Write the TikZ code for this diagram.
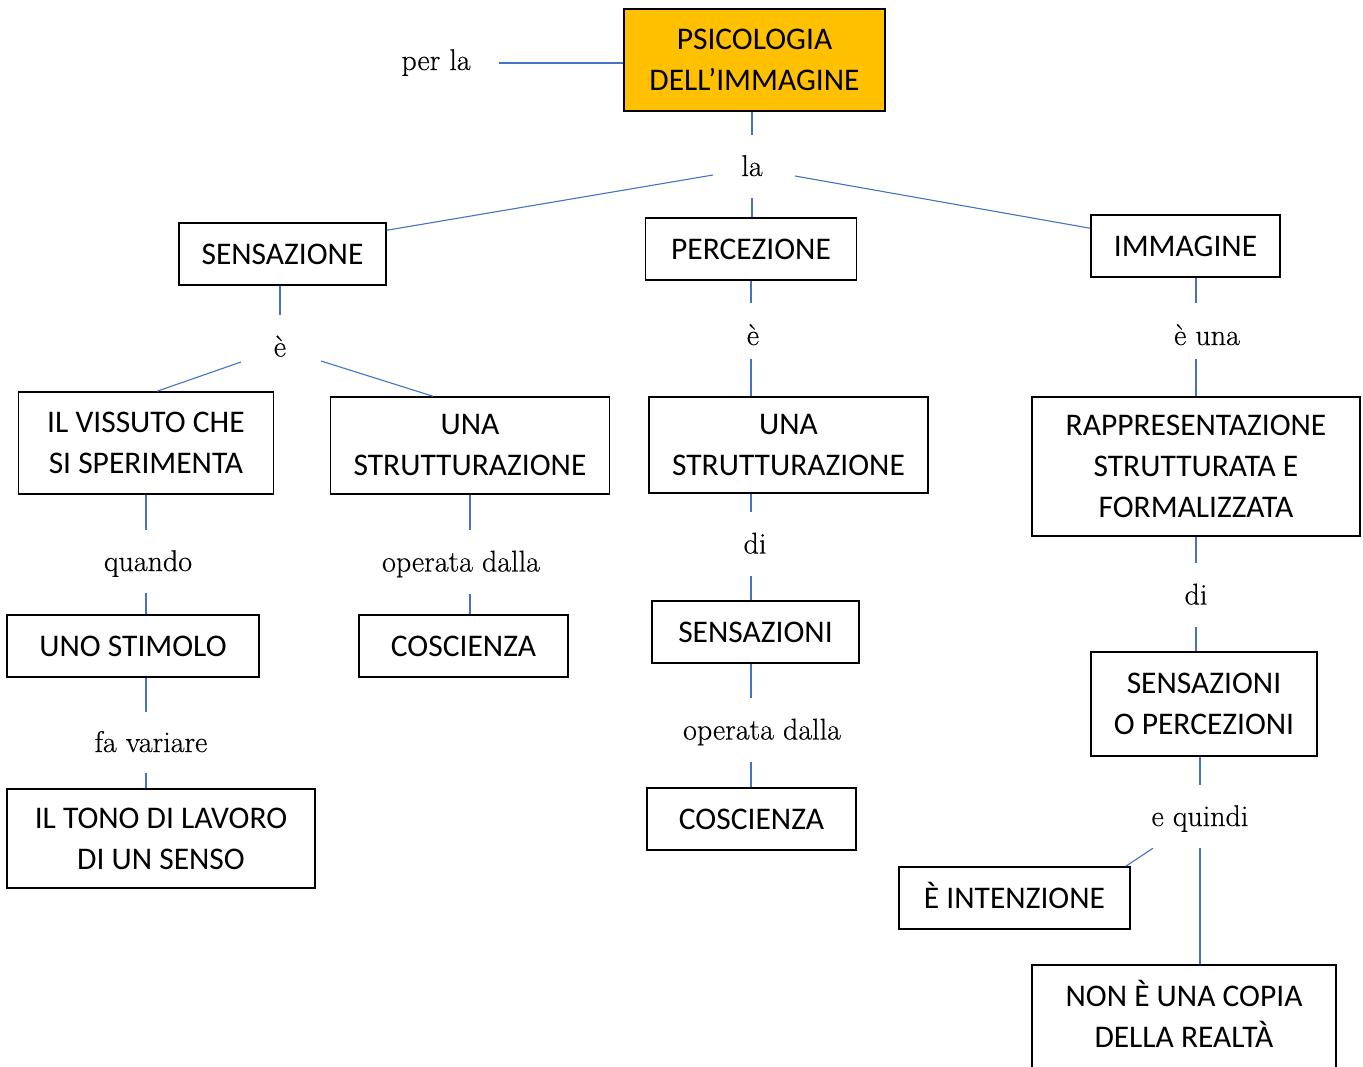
\documentclass[tikz,border=0pt]{standalone}
\usepackage{fontspec}
\newfontfamily\boxfont{Carlito}
\newfontfamily\linkfont{Latin Modern Roman}[FakeBold=0.4]
\definecolor{linkblue}{RGB}{68,114,196}
\definecolor{headfill}{RGB}{255,192,0}
\begin{document}
\begin{tikzpicture}[x=1pt,y=-1pt,
  concept/.style={draw=black,line width=1.5pt,inner sep=0pt,align=center,
    font=\boxfont\fontsize{31.5}{41}\selectfont},
  oneline/.style={concept,text height=20pt,text depth=0pt},
  linkword/.style={inner sep=0pt,font=\linkfont\fontsize{30}{36}\selectfont,
    text height=19pt,text depth=0pt},
  conn/.style={draw=linkblue,line width=1.1pt}]
\useasboundingbox (0,0) rectangle (1363,1066);

% concept boxes
\node[concept,fill=headfill,minimum width=261,minimum height=102] (psi) at (754.5,60) {PSICOLOGIA\\DELL’IMMAGINE};
\node[oneline,minimum width=207,minimum height=62] (sens) at (282.5,254) {SENSAZIONE};
\node[oneline,minimum width=211,minimum height=62] (perc) at (751,249) {PERCEZIONE};
\node[oneline,minimum width=189,minimum height=62] (imm) at (1185.5,246) {IMMAGINE};
\node[concept,minimum width=255,minimum height=102] (vissuto) at (146,443) {IL VISSUTO CHE\\SI SPERIMENTA};
\node[concept,minimum width=279,minimum height=97] (strutA) at (470,445.5) {UNA\\STRUTTURAZIONE};
\node[oneline,minimum width=252,minimum height=62] (stimolo) at (133,646) {UNO STIMOLO};
\node[concept,minimum width=308,minimum height=99] (tono) at (161,838.5) {IL TONO DI LAVORO\\DI UN SENSO};
\node[oneline,minimum width=209,minimum height=62] (coscA) at (463.5,646) {COSCIENZA};
\node[concept,minimum width=279,minimum height=96] (strutB) at (788.5,445) {UNA\\STRUTTURAZIONE};
\node[oneline,minimum width=207,minimum height=62] (sensB) at (755.5,632) {SENSAZIONI};
\node[oneline,minimum width=209,minimum height=62] (coscB) at (751.5,819) {COSCIENZA};
\node[concept,minimum width=328,minimum height=139] (rappr) at (1196,466.5) {RAPPRESENTAZIONE\\STRUTTURATA E\\FORMALIZZATA};
\node[concept,minimum width=226,minimum height=104] (sensperc) at (1204,704) {SENSAZIONI\\O PERCEZIONI};
\node[oneline,minimum width=231,minimum height=62] (intenz) at (1014.5,898) {È INTENZIONE};
\node[concept,minimum width=304,minimum height=104] (copia) at (1184,1017) {NON \smash{È} UNA COPIA\\DELLA REALTÀ};

% linking words
\node[linkword,text height=14pt] (perla) at (436,63) {per la};
\node[linkword,minimum height=63] (la) at (752,166.5) {la};
\node[linkword,minimum height=64] (e1) at (280,347) {è};
\node[linkword,minimum height=63] (quando) at (148,561.5) {quando};
\node[linkword,minimum height=61] (fav) at (151,742.5) {fa variare};
\node[linkword,minimum height=64] (opA) at (461,562) {operata dalla};
\node[linkword,minimum height=56,text height=28pt] (e2) at (753,331) {è};
\node[linkword,minimum height=64] (di1) at (755,544) {di};
\node[linkword,minimum height=64] (opB) at (762,730) {operata dalla};
\node[linkword,minimum height=56,text height=28pt] (euna) at (1207,331) {è una};
\node[linkword,minimum height=64] (di2) at (1196,595) {di};
\node[linkword,minimum height=63] (equindi) at (1200,816.5) {e quindi};

% connectors
\draw[conn,shorten <=28pt] (perla.east) -- (psi.west |- perla.east);
\draw[conn] (psi.south -| la) -- (la.north);
\draw[conn] (la.south) -- (perc.north -| la);
\draw[conn] ([shift={(-39,8.5)}]la.center) -- ([shift={(0,8)}]sens.north east);
\draw[conn] ([shift={(43,9.5)}]la.center) -- ([shift={(0,14)}]imm.north west);

\draw[conn] (sens.south -| e1) -- (e1.north);
\draw[conn] ([shift={(-39,15)}]e1.center) -- ([shift={(11,0)}]vissuto.north);
\draw[conn] ([shift={(41,14)}]e1.center) -- ([shift={(-37,0)}]strutA.north);

\draw[conn] (vissuto.south) -- (quando.north -| vissuto);
\draw[conn] (quando.south -| vissuto) -- (stimolo.north -| vissuto);
\draw[conn] (stimolo.south -| vissuto) -- (fav.north -| vissuto);
\draw[conn] (fav.south -| vissuto) -- (tono.north -| vissuto);

\draw[conn] (strutA.south) -- (opA.north -| strutA);
\draw[conn] (opA.south -| strutA) -- (coscA.north -| strutA);

\draw[conn] (perc.south) -- (e2.north -| perc);
\draw[conn] (e2.south -| perc) -- (strutB.north -| perc);
\draw[conn] (strutB.south -| perc) -- (di1.north -| perc);
\draw[conn] (di1.south -| perc) -- (sensB.north -| perc);
\draw[conn] (sensB.south -| perc) -- (opB.north -| perc);
\draw[conn] (opB.south -| perc) -- (coscB.north -| perc);

\draw[conn] (imm.south -| rappr) -- (euna.north -| rappr);
\draw[conn] (euna.south -| rappr) -- (rappr.north);
\draw[conn] (rappr.south) -- (di2.north -| rappr);
\draw[conn] (di2.south -| rappr) -- (sensperc.north -| rappr);
\draw[conn] (sensperc.south -| equindi) -- (equindi.north);
\draw[conn] ([shift={(-47,0)}]equindi.south) -- ([shift={(-5,0)}]intenz.north east);
\draw[conn] (equindi.south) -- (copia.north -| equindi);
\end{tikzpicture}
\end{document}
